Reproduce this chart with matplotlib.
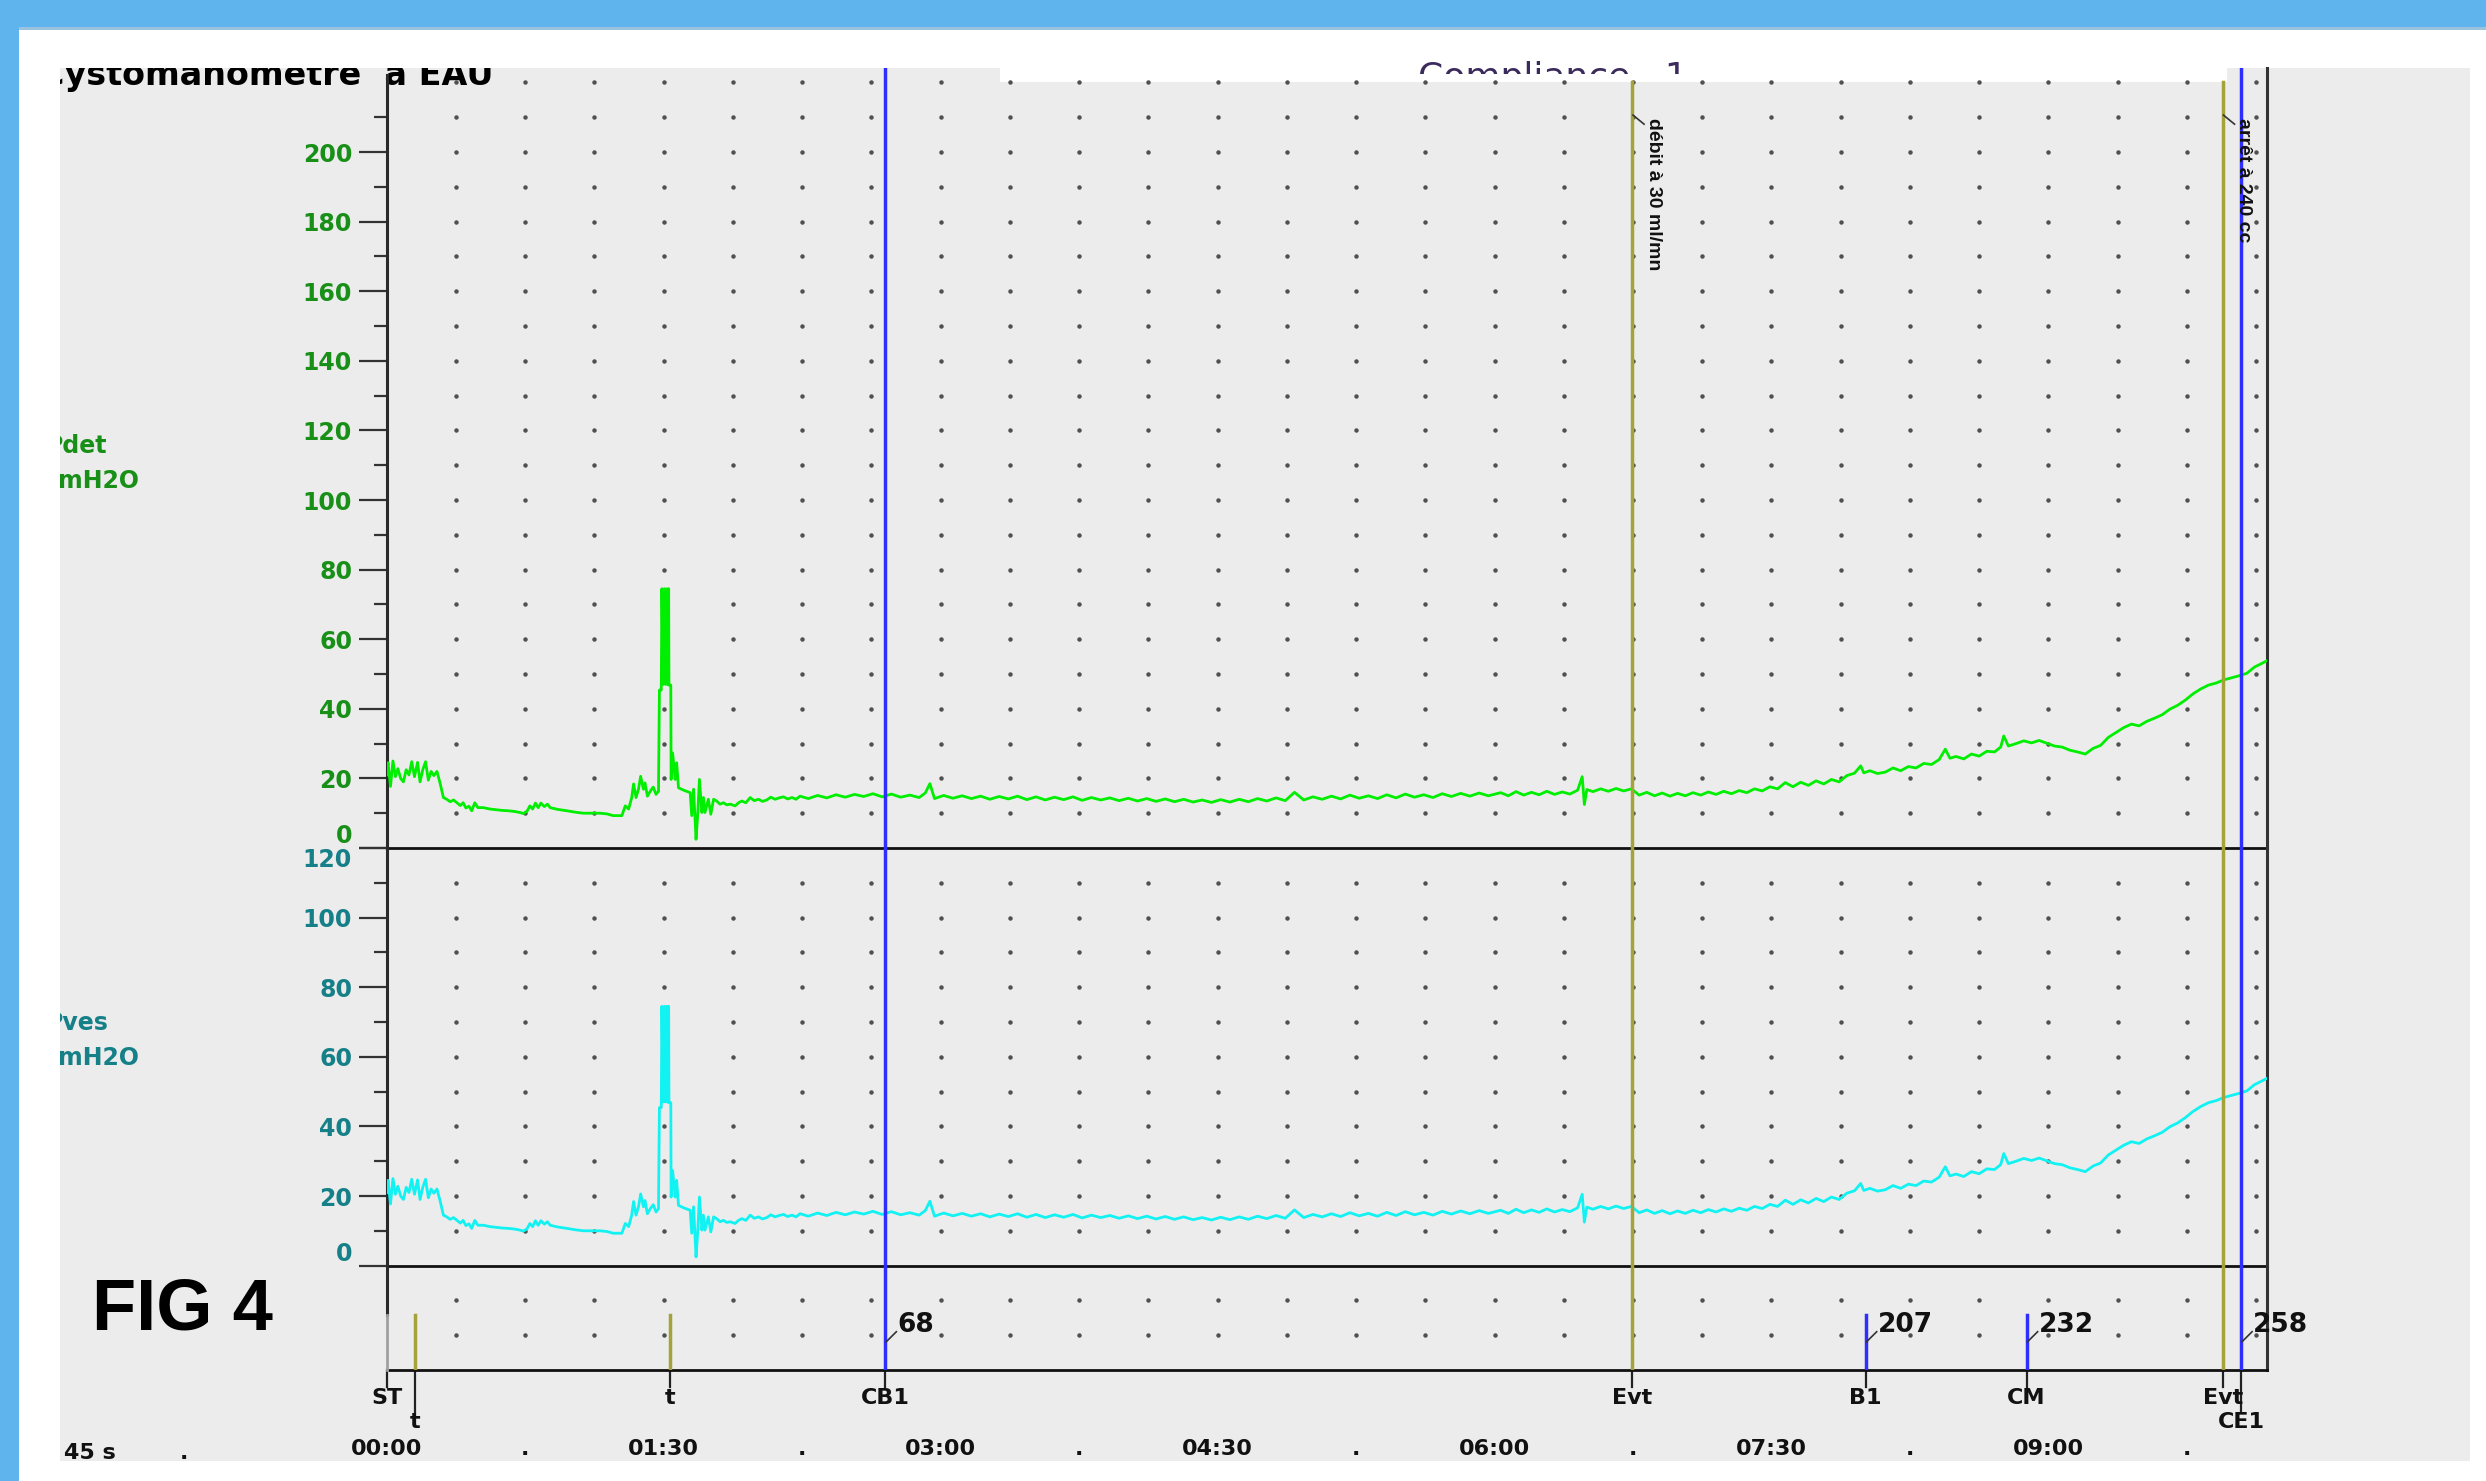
import numpy as np
import matplotlib
matplotlib.use('Agg')
import matplotlib.pyplot as plt
import matplotlib.patches as patches
from matplotlib import font_manager


W, H = 2486, 1481
PX = 3.48       # pixels par cmH2O
SEC = 3.077     # pixels par seconde
X0, X1 = 386.8, 2267.0


# releve de pression (s, cmH2O) -- meme signal sur les deux voies
releve = [
    (0, 21), (0.4, 24.5), (1.2, 17.7), (2.0, 25.0), (2.8, 20.5), (3.6, 22.8), (4.5, 20.0),
    (5.4, 19.0), (6.3, 22.5), (7.2, 21.0), (8.1, 24.8), (9.0, 20.5), (10.0, 24.6), (10.8, 19.0),
    (11.7, 22.5), (12.6, 24.8), (13.5, 19.5), (14.4, 22.0), (15.3, 20.8), (16.3, 22.0),
    (17.3, 18.7), (18.4, 14.5),
    (19.5, 14.0), (20.6, 13.3), (21.7, 13.8), (22.8, 13.0), (23.9, 12.2), (24.8, 13.0),
    (25.7, 11.5), (26.7, 12.0), (27.6, 10.7), (28.6, 13.0), (29.6, 11.6), (31.4, 11.6),
    (33.5, 11.2), (35.5, 11.0), (37.5, 10.8), (39.5, 10.7), (41.5, 10.5), (43.3, 10.2),
    (44.4, 9.9), (45.6, 10.6), (46.5, 12.1), (47.4, 11.2), (48.3, 12.9), (49.2, 11.6),
    (50.1, 12.9), (51.2, 11.9), (52.2, 12.6), (53.1, 11.6), (55.5, 11.1), (58.5, 10.7),
    (61.2, 10.3), (63.9, 10.0), (66.6, 10.0), (69.3, 10.0), (71.5, 9.8), (73.6, 9.3), (76.4, 9.3),
    (77.5, 12.1), (78.6, 11.2), (79.6, 14.5), (80.2, 18.4), (81.0, 14.5), (81.8, 16.9),
    (82.5, 20.6), (83.4, 16.9), (83.9, 18.7), (84.7, 14.9), (85.6, 16.3), (86.6, 17.5),
    (87.5, 15.4), (88.3, 16.3), (88.6, 45.4), (89.2, 45.4), (89.4, 74.5), (89.8, 47.0),
    (90.2, 74.5), (90.6, 47.0), (91.0, 74.5), (91.3, 47.0), (91.6, 74.5), (91.7, 46.8),
    (92.3, 46.8), (92.4, 19.7), (92.9, 27.3), (93.7, 19.7), (94.2, 24.5), (94.8, 17.3),
    (96.5, 16.6), (98.6, 15.9), (99.1, 9.3), (99.7, 16.9), (100.5, 2.5), (101.0, 9.0),
    (101.6, 19.7), (102.4, 10.2), (102.9, 14.5), (103.4, 10.2), (104.5, 14.0), (105.3, 9.7),
    (106.2, 14.0), (107.2, 13.5), (108.3, 12.6), (109.4, 13.0), (110.5, 12.4), (111.6, 12.6),
    (113.2, 12.1), (114.3, 13.0), (115.4, 13.5), (116.7, 13.0), (118.1, 14.5), (119.4, 13.6),
    (120.8, 14.0), (122.1, 13.4), (123.5, 13.8), (124.8, 14.6), (126.2, 14.0), (127.5, 14.4),
    (128.9, 14.7), (130.3, 14.1), (131.7, 14.5), (133.0, 14.0), (134.3, 14.9),
    (137, 14.2), (140, 15.1), (143, 14.4), (146, 15.3), (149, 14.6), (152, 15.4), (155, 14.8),
    (158, 15.6), (161, 14.7), (164, 15.5), (167, 14.6), (170, 15.2), (173, 14.5), (175, 15.8),
    (176.5, 18.5), (178, 14.2), (181, 15.1), (184, 14.3), (187, 15.0), (190, 14.2), (193, 14.9),
    (196, 14.0), (199, 14.8), (202, 14.1), (205, 14.9), (208, 13.9), (211, 14.7), (214, 13.8),
    (217, 14.6), (220, 13.9), (223, 14.7), (226, 13.7), (229, 14.5), (232, 13.8), (235, 14.4),
    (238, 13.6), (241, 14.3), (244, 13.5), (247, 14.2), (250, 13.4), (253, 14.1), (256, 13.3),
    (259, 14.0), (262, 13.2), (265, 13.8), (268, 13.1), (271, 13.9), (274, 13.2), (277, 14.0),
    (280, 13.3), (283, 14.2), (286, 13.5), (289, 14.4), (292, 13.6), (295, 16.0), (298, 13.8),
    (301, 14.7), (304, 14.0), (307, 14.9), (310, 14.1), (313, 15.2), (316, 14.3), (319, 15.0),
    (322, 14.2), (325, 15.3), (328, 14.4), (331, 15.5), (334, 14.6), (337, 15.3), (340, 14.5),
    (343, 15.6), (346, 14.8), (349, 15.7), (352, 14.9), (355, 15.8), (358, 15.0),
    (362, 15.9), (364.5, 15.0), (367, 16.2), (369.5, 15.2), (372, 16.0), (374.5, 15.3),
    (377, 16.3), (379.5, 15.4), (382, 16.1), (384.5, 15.5), (387, 16.6), (388.5, 20.5),
    (389.2, 12.5), (390, 16.8), (392, 16.2), (394.5, 17.0), (397, 16.3), (399.5, 17.1),
    (402, 16.4), (404.5, 17.0), (407, 15.2), (409.5, 16.0), (412, 15.0), (414.5, 15.8),
    (417, 14.9), (419.5, 15.7), (422, 15.0), (424.5, 15.9), (427, 15.2), (429.5, 16.1),
    (432, 15.4), (434.5, 16.3), (437, 15.6), (439.5, 16.5), (442, 15.9), (444.5, 17.0),
    (447, 16.4), (449.5, 17.6), (452, 17.0), (454.5, 18.8), (457, 17.6), (459.5, 18.9),
    (462, 18.0), (464.5, 19.3), (467, 18.4), (469.5, 19.7), (472, 19.0), (474.5, 20.8),
    (477, 21.5), (479, 23.6), (480, 21.6), (482, 22.2), (484.5, 21.4), (487, 21.8),
    (489.5, 23.0), (492, 22.2), (494.5, 23.4), (497, 23.0), (499.5, 24.3), (502, 24.0),
    (504.5, 25.4), (506.5, 28.4), (508, 25.8), (510, 26.3), (512.5, 25.6), (515, 27.0),
    (517.5, 26.4), (520, 27.8), (522.5, 27.6), (524.5, 29.0), (525.5, 32.2), (527, 29.3),
    (529.5, 30.0), (532, 30.8), (534.5, 30.2), (537, 30.9), (539.5, 30.1), (542, 29.3),
    (544.5, 29.0), (547, 28.1), (549.5, 27.6), (552, 27.0), (554.5, 28.6), (557, 29.5),
    (559.5, 31.8), (562, 33.2), (564.5, 34.6), (567, 35.6), (569.5, 35.1), (572, 36.4),
    (574.5, 37.3), (577, 38.3), (579.5, 39.9), (582, 41.0), (584.5, 42.5), (587, 44.3),
    (589.5, 45.7), (592, 46.8), (594.5, 47.4), (597, 48.3), (599.5, 48.9), (602, 49.5),
    (604.5, 50.2), (607, 52.0), (609.5, 53.1), (611, 53.8),
]
temps = [p[0] for p in releve]
pression = [p[1] for p in releve]

# marqueurs d'evenements
evt_noms = ['ST', 't', 't', 'CB1', 'Evt', 'B1', 'CM', 'Evt', 'CE1']
evt_temps = [0, 9.1, 92.0, 162.0, 404.8, 480.6, 532.9, 596.7, 602.6]
evt_rang = [0, 1, 0, 0, 0, 0, 0, 0, 1]
evt_type = ['', 'olive_c', 'olive_c', 'bleu_l', 'olive_l', 'bleu_c', 'bleu_c', 'olive_l', 'bleu_l']
evt_volume = [None, None, None, 68, None, 207, 232, None, 258]
evt_note = {4: 'débit à 30 ml/mn', 7: 'arrêt à 240 cc'}

# axes
t_major = [0, 90, 180, 270, 360, 450, 540]
t_labels = ['00:00', '01:30', '03:00', '04:30', '06:00', '07:30', '09:00']
t_minor = [45, 135, 225, 315, 405, 495, 585]
up_ticks = [0, 20, 40, 60, 80, 100, 120, 140, 160, 180, 200]
up_minor = [10, 30, 50, 70, 90, 110, 130, 150, 170, 190, 210]
lo_ticks = [0, 20, 40, 60, 80, 100, 120]
lo_minor = [10, 30, 50, 70, 90, 110]


noms = {f.name for f in font_manager.fontManager.ttflist}
SANS = 'Liberation Sans' if 'Liberation Sans' in noms else 'DejaVu Sans'

GRIS = '#ececec'
VERT = '#00ee00'
CYAN = '#12f2f2'
VERT_TXT = '#189018'
CYAN_TXT = '#168088'
OLIVE = '#a6a23a'
BLEU = '#2e2eff'
NOIR = '#2a2a2a'
ENCRE = '#111111'


def px_axes(fig, x0, y0, x1, y1):
    return fig.add_axes([x0 / W, 1 - y1 / H, (x1 - x0) / W, (y1 - y0) / H])


fig = plt.figure(figsize=(W / 100, H / 100), dpi=100, facecolor='#5fb4ee')

# fond : cadre blanc puis zone grise
ax_bg = fig.add_axes([0, 0, 1, 1])
ax_bg.set_xlim(0, W)
ax_bg.set_ylim(H, 0)
ax_bg.axis('off')
ax_bg.add_patch(patches.Rectangle((19, 27), W - 19, H - 27, facecolor='white', edgecolor='none'))
ax_bg.add_patch(patches.Rectangle((19, 27), W - 19, 3, facecolor='#9cc3dd', edgecolor='none'))

ax_gr = px_axes(fig, 60, 68, 2470, 1461)
ax_gr.set_xlim(60, 2470)
ax_gr.set_ylim(1461, 68)
ax_gr.set_facecolor(GRIS)
ax_gr.set_xticks([])
ax_gr.set_yticks([])
for s in ax_gr.spines.values():
    s.set_visible(False)

# titre "Compliance" a moitie masque
ax_gr.add_patch(patches.Rectangle((1000, 68), 1227, 14, facecolor='white', edgecolor='none', zorder=1))
ax_gr.text(1418, 88, 'Compliance   1', fontsize=26, color='#3b2a5c', clip_on=False,
           va='baseline', ha='left', zorder=2)
ax_gr.add_patch(patches.Rectangle((1350, 74), 500, 8, facecolor='white', edgecolor='none', zorder=3))
ax_gr.add_patch(patches.Rectangle((1350, 82), 500, 20, facecolor=GRIS, edgecolor='none', zorder=3))

ax_gr.text(40, 85, 'Cystomanometre  à EAU', fontsize=24, fontweight='bold', color='black',
           va='baseline', ha='left', clip_on=True)
ax_gr.text(46, 446, 'Pdet', fontsize=17, fontweight='bold', color=VERT_TXT, va='center', clip_on=True)
ax_gr.text(44, 481, 'cmH2O', fontsize=17, fontweight='bold', color=VERT_TXT, va='center', clip_on=True)
ax_gr.text(46, 1023, 'Pves', fontsize=17, fontweight='bold', color=CYAN_TXT, va='center', clip_on=True)
ax_gr.text(44, 1058, 'cmH2O', fontsize=17, fontweight='bold', color=CYAN_TXT, va='center', clip_on=True)
ax_gr.text(92, 1330, 'FIG 4', fontsize=52, fontweight='bold', family=[SANS, 'DejaVu Sans'],
           color='black', va='baseline', ha='left')
ax_gr.text(64, 1459, '45 s', fontsize=16, fontweight='bold', color=ENCRE, va='baseline')
ax_gr.text(180, 1459, '.', fontsize=16, fontweight='bold', color=ENCRE, va='baseline')

# panneaux de donnees
tmax = (X1 - X0) / SEC
ax_up = px_axes(fig, X0, 68, X1, 848)
ax_lo = px_axes(fig, X0, 848, X1, 848 + 120 * PX)
ax_ev = px_axes(fig, X0, 848 + 120 * PX, X1, 1370)
up_top = (848 - 68) / PX
ax_up.set_ylim(0, up_top)
ax_lo.set_ylim(0, 120)
ax_ev.set_ylim(-(1370 - 848 - 120 * PX) / PX, 0)
ev_bas = ax_ev.get_ylim()[0]

for ax in (ax_up, ax_lo, ax_ev):
    ax.set_xlim(0, tmax)
    ax.set_facecolor('none')
    ax.spines['top'].set_visible(False)
    ax.spines['right'].set_color('#333333')
    ax.spines['right'].set_linewidth(2.2)
    ax.spines['bottom'].set_color(ENCRE)
    ax.spines['bottom'].set_linewidth(2.0)
    ax.spines['left'].set_color(NOIR)
    ax.spines['left'].set_linewidth(2.2)

ax_up.spines['left'].set_bounds(0, (848 - 75) / PX)
ax_ev.spines['left'].set_visible(False)

# graduations de pression
for ax, maj, mnr, col in [(ax_up, up_ticks, up_minor, VERT_TXT), (ax_lo, lo_ticks, lo_minor, CYAN_TXT)]:
    ax.set_xticks([])
    ax.set_yticks(maj, labels=[str(v) for v in maj])
    ax.set_yticks(mnr, minor=True)
    ax.tick_params(axis='y', which='major', length=20, width=1.6, color='#333333', pad=5,
                   labelsize=17, labelcolor=col)
    ax.tick_params(axis='y', which='minor', length=9.5, width=1.6, color='#333333')
    for lab in ax.get_yticklabels():
        lab.set_fontweight('bold')

ax_up.get_yticklabels()[0].set_verticalalignment('bottom')
ax_lo.get_yticklabels()[0].set_verticalalignment('bottom')
ax_lo.get_yticklabels()[-1].set_verticalalignment('top')

# grille de points
gx = np.arange(22.5, tmax, 22.5)
for ax, gy in [(ax_up, np.arange(10, 221, 10)), (ax_lo, np.arange(10, 111, 10)), (ax_ev, [-10, -20])]:
    xx, yy = np.meshgrid(gx, gy)
    ax.plot(xx.ravel(), yy.ravel(), ls='none', marker='o', ms=2.2, color='#505050', zorder=1)

# courbes
ax_up.plot(temps, pression, color=VERT, lw=2.0, zorder=3)
ax_lo.plot(temps, pression, color=CYAN, lw=2.0, zorder=3)

# panneau des evenements
ax_ev.plot([0, 0], [0, -14.2], color=NOIR, lw=2.2, clip_on=False, zorder=4)
ax_ev.plot([0, 0], [-14.2, ev_bas], color='#a0a0a0', lw=2.0, clip_on=False, zorder=4)

y_trait = [-(1387 - 1265.6) / PX, -(1412 - 1265.6) / PX]
y_lib = [-(1398 - 1265.6) / PX, -(1422 - 1265.6) / PX]

for i, (nom, t) in enumerate(zip(evt_noms, evt_temps)):
    kind = evt_type[i]
    col = OLIVE if kind.startswith('olive') else BLEU
    if kind.endswith('_l'):
        haut = 1.0 if kind.startswith('bleu') else (848 - 82) / (848 - 68)
        ax_up.axvline(t, 0, haut, color=col, lw=2.5, zorder=4)
        ax_lo.axvline(t, color=col, lw=2.5, zorder=4)
        ax_ev.axvline(t, color=col, lw=2.5, zorder=4)
    elif kind.endswith('_c'):
        ax_ev.plot([t, t], [-14.2, ev_bas], color=col, lw=2.5, zorder=4)

    r = evt_rang[i]
    ax_ev.plot([t, t], [ev_bas, y_trait[r]], color='#222222', lw=1.6, clip_on=False)
    ax_ev.text(t, y_lib[r], nom, ha='center', va='center', fontsize=16, fontweight='bold',
               color=ENCRE, clip_on=False)

    if evt_volume[i] is not None:
        ax_ev.plot([t + 0.3, t + 3.6], [-21.9, -19.0], color='#333333', lw=1.2, zorder=5)
        ax_ev.text(t + 4.0, -17.1, str(evt_volume[i]), ha='left', va='center', fontsize=19,
                   fontweight='bold', color=ENCRE, clip_on=False, zorder=5)

    if i in evt_note:
        ax_up.plot([t + 0.2, t + 3.8], [210.6, 208.0], color='#333333', lw=1.2, zorder=5)
        ax_up.text(t + 4.0, 209.8, evt_note[i], rotation=270, ha='left', va='top', fontsize=14,
                   fontweight='bold', family=[SANS, 'DejaVu Sans'], color=ENCRE, zorder=5)

# echelle de temps
ax_ev.set_yticks([])
ax_ev.set_xticks(t_major, labels=t_labels)
ax_ev.set_xticks(t_minor, labels=['.'] * len(t_minor), minor=True)
ax_ev.tick_params(axis='x', which='both', length=0, pad=50, labelsize=16, labelcolor=ENCRE)
for lab in ax_ev.get_xticklabels() + ax_ev.get_xticklabels(minor=True):
    lab.set_fontweight('bold')

fig.savefig('out.png', dpi=100, facecolor=fig.get_facecolor())
